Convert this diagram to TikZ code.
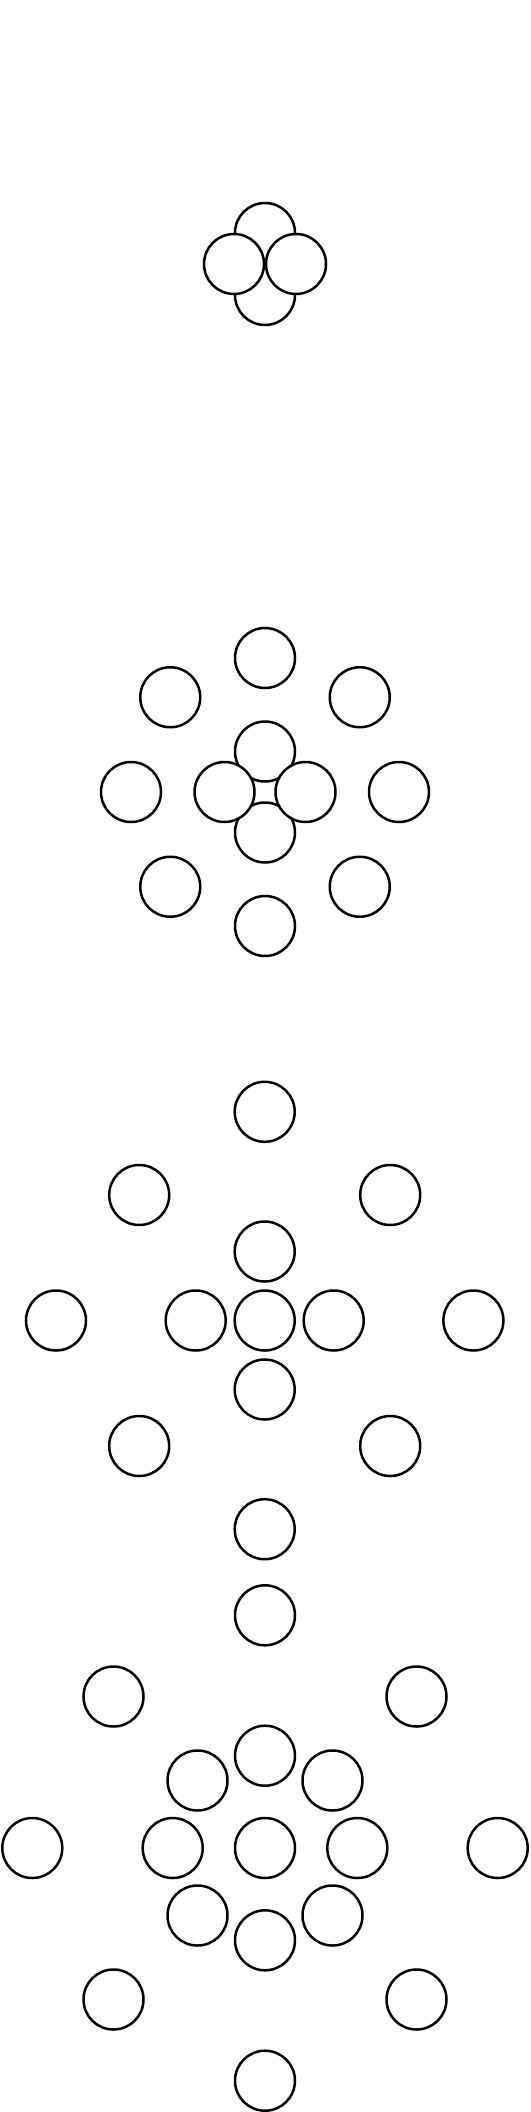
\documentclass[tikz,border=0pt]{standalone}
\usepackage{tikz}

\begin{document}
\begin{tikzpicture}[x=0.5pt, y=-0.5pt,
    ring/.style={circle, draw, fill=white, line width=1.25pt, minimum size=30pt, inner sep=0pt}
]
    \useasboundingbox (0,0) rectangle (530,2112);

    \begin{scope}[shift={(265,264)}]
        % Four touching circles
        \node[ring] (ta) at (0,-31) {};
        \node[ring] (tb) at (0,31) {};
        \node[ring] (tl) at (-31,0) {};
        \node[ring] (tr) at (31,0) {};
    \end{scope}

    \begin{scope}[shift={(265,792)}]
        % Outer ring of eight
        \foreach \a in {0,45,...,315} {
            \node[ring] (s\a) at (\a:134) {};
        }
        % Inner cluster
        \node[ring] (sa) at (0,-40.5) {};
        \node[ring] (sb) at (0,40.5) {};
        \node[ring] (sl) at (-40.5,0) {};
        \node[ring] (sr) at (40.5,0) {};
    \end{scope}

    \begin{scope}[shift={(264.7,1320.5)}]
        % Outer ring
        \foreach \x/\y/\n in {0/-208.7/n, 125.5/-125.5/ne, 208.7/0/e, 125.5/125.5/se,
                              0/208.7/s, -125.5/125.5/sw, -208.7/0/w, -125.5/-125.5/nw} {
            \node[ring] (c\n) at (\x,\y) {};
        }
        % Cross with centre
        \foreach \x/\y/\n in {0/-69/in, 69/0/ie, 0/69/is, -69/0/iw, 0/0/mid} {
            \node[ring] (c\n) at (\x,\y) {};
        }
    \end{scope}

    \begin{scope}[shift={(265,1848)}]
        % Outer ring
        \foreach \x/\y/\n in {0/-232.7/n, 151.5/-151.5/ne, 232.7/0/e, 151.5/151.5/se,
                              0/232.7/s, -151.5/151.5/sw, -232.7/0/w, -151.5/-151.5/nw} {
            \node[ring] (d\n) at (\x,\y) {};
        }
        % Inner ring of eight
        \foreach \x/\y/\n in {0/-92.3/n, 67.5/-67.5/ne, 92.3/0/e, 67.5/67.5/se,
                              0/92.3/s, -67.5/67.5/sw, -92.3/0/w, -67.5/-67.5/nw} {
            \node[ring] (di\n) at (\x,\y) {};
        }
        \node[ring] (dmid) at (0,0) {};
    \end{scope}
\end{tikzpicture}
\end{document}
